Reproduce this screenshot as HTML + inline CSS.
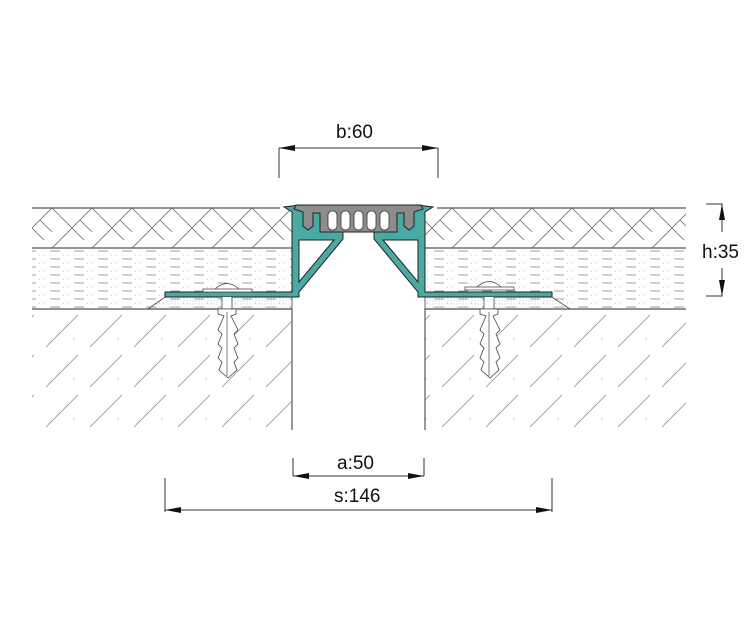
<!DOCTYPE html>
<html><head><meta charset="utf-8"><style>
html,body{margin:0;padding:0;background:#fff;width:750px;height:635px;overflow:hidden}
text{font-family:"Liberation Sans",sans-serif;font-size:19px;fill:#111}
</style></head><body>
<svg width="750" height="635" viewBox="0 0 750 635" xmlns="http://www.w3.org/2000/svg">
<defs>
<pattern id="hb" x="32" y="208" width="40" height="40" patternUnits="userSpaceOnUse">
<path d="M0 20 L20 0 M20 40 L40 20 M0 20 L12 32 M28 8 L40 20 M20 0 L28 8 M8 12 L20 24" stroke="#666" stroke-width="0.8" fill="none"/>
</pattern>
<pattern id="dash" x="0" y="250" width="24" height="8" patternUnits="userSpaceOnUse">
<path d="M2 1 H12" stroke="#888" stroke-width="0.8"/>
<path d="M15 5 H16 M19 5 H20" stroke="#aaa" stroke-width="0.8"/>
</pattern>
<pattern id="conc" x="0" y="309" width="44" height="40" patternUnits="userSpaceOnUse">
<path d="M2 38 L34 6" stroke="#888" stroke-width="0.8"/>
<circle cx="30" cy="30" r="0.6" fill="#999"/>
</pattern>
<pattern id="dots" width="3" height="3" patternUnits="userSpaceOnUse">
<circle cx="1" cy="1" r="0.5" fill="#bbb"/>
</pattern>
</defs>
<rect x="32" y="208" width="260" height="40" fill="url(#hb)"/>
<rect x="32" y="248" width="260" height="61" fill="url(#dash)"/>
<rect x="32" y="309" width="260" height="121" fill="url(#conc)"/>
<rect x="425" y="208" width="261" height="40" fill="url(#hb)"/>
<rect x="425" y="248" width="261" height="61" fill="url(#dash)"/>
<rect x="425" y="309" width="261" height="121" fill="url(#conc)"/>
<g stroke="#555" stroke-width="1.2">
<path d="M32 208 H280 M32 248 H292 M32 309 H292 M292 309 V430"/>
<path d="M437 208 H686 M425 248 H686 M425 309 H686 M425 309 V430"/>
</g>
<path d="M148 309 L165 297 H292 V309 Z" fill="url(#dots)" stroke="#444" stroke-width="0.8"/>
<path d="M425 297 H552 L570 309 H425 Z" fill="url(#dots)" stroke="#444" stroke-width="0.8"/>
<!-- profile -->
<g fill="#4aa9a3" stroke="#222" stroke-width="1">
<path d="M165 292 H292 V212 L284 207 L300 205 H320 V232 H343 V239 L299 292 V297 H165 Z"/>
<path d="M552 292 H425 V212 L433 207 L417 205 H397 V232 H374 V239 L418 292 V297 H552 Z"/>
</g>
<g fill="#fff" stroke="#222" stroke-width="1">
<path d="M299 240 H334 L299 282 Z"/>
<path d="M418 240 H383 L418 282 Z"/>
</g>
<!-- rubber insert -->
<path d="M296 205 H421 L423 209 L414 212 V226 L409 230 L404 226 V213 H397 V232 H320 V213 H313 V226 L308 230 L303 226 V212 L294 209 Z" fill="#8c8c8c" stroke="#222" stroke-width="1"/>
<g fill="#fff" stroke="#333" stroke-width="0.8">
<rect x="328" y="211" width="9" height="19" rx="4"/>
<rect x="341" y="211" width="9" height="19" rx="4"/>
<rect x="354" y="211" width="9" height="19" rx="4"/>
<rect x="367" y="211" width="9" height="19" rx="4"/>
<rect x="380" y="211" width="9" height="19" rx="4"/>
</g>
<!-- screws -->
<g fill="#fff" stroke="#444" stroke-width="0.8">
<path d="M203 292 H252 V289 H203 Z M215 289 Q227 278 239 289 Z"/>
<path d="M222 297 V309 H232 V297"/>
<path d="M218 309 H236 L236 314 L231 316 L238 330 L234 334 L238 344 L234 348 L238 358 L234 362 L237 370 L228 378 L219 370 L222 362 L218 358 L222 348 L218 344 L222 334 L218 330 L224 316 L218 314 Z"/>
<path d="M465 290 H514 V287 H465 Z M477 287 Q489 276 501 287 Z"/>
<path d="M484 297 V309 H494 V297"/>
<path d="M480 309 H498 L498 314 L493 316 L500 330 L496 334 L500 344 L496 348 L500 358 L496 362 L499 370 L490 378 L481 370 L484 362 L480 358 L484 348 L480 344 L484 334 L480 330 L486 316 L480 314 Z"/>
</g>
<g stroke="#444" stroke-width="0.7" fill="none">
<path d="M227 312 V376 M489 312 V376"/>
</g>
<!-- dimensions -->
<g stroke="#333" stroke-width="1" fill="none">
<path d="M279 148 V178 M438 148 V178 M279 148 H438"/>
<path d="M293 458 V476 M424 458 V476 M293 476 H424"/>
<path d="M165 478 V512 M552 478 V512 M165 510 H552"/>
<path d="M706 204 H722 V232 M706 296 H722 V268"/>
</g>
<g fill="#111">
<path d="M279 148 L295 145 L295 151 Z M438 148 L422 145 L422 151 Z"/>
<path d="M293 476 L309 473 L309 479 Z M424 476 L408 473 L408 479 Z"/>
<path d="M165 510 L181 507 L181 513 Z M552 510 L536 507 L536 513 Z"/>
<path d="M722 204 L719 220 L725 220 Z M722 296 L719 280 L725 280 Z"/>
</g>
<text x="336" y="138">b:60</text>
<text x="337" y="469">a:50</text>
<text x="334" y="502">s:146</text>
<text x="702" y="258">h:35</text>
</svg>
</body></html>
